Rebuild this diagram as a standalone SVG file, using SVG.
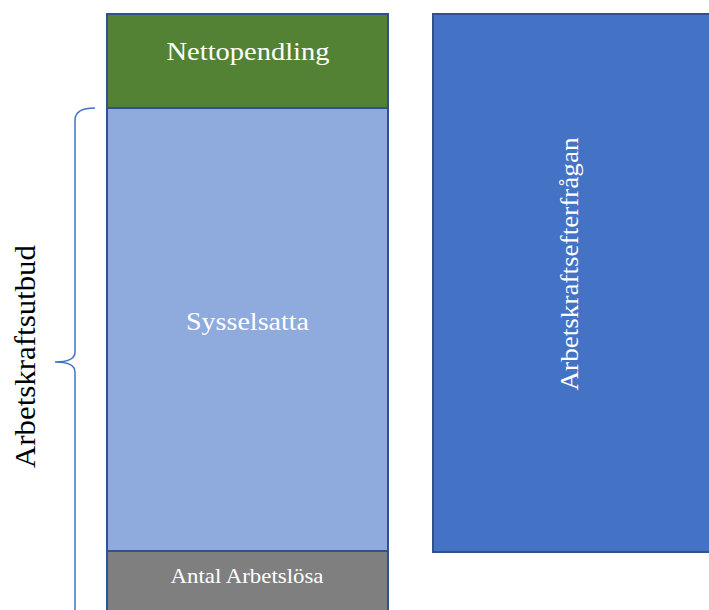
<svg xmlns="http://www.w3.org/2000/svg" width="709" height="610" viewBox="0 0 709 610">
<style>
.box{stroke:#2F528F;stroke-width:2}
.lbl{font-family:"Liberation Serif","Times New Roman",serif;fill:#FFFFFF;text-anchor:middle}
.side{font-family:"Liberation Serif","Times New Roman",serif;fill:#000000;text-anchor:middle}
.brace{fill:none;stroke:#4472C4;stroke-width:1.5}
</style>
<rect width="709" height="610" fill="#FFFFFF"/>
<g id="nettopendling">
<rect class="box" x="107" y="14" width="281" height="94" fill="#548235"/>
<text class="lbl" x="248" y="60" font-size="25" textLength="163" lengthAdjust="spacingAndGlyphs">Nettopendling</text>
</g>
<g id="sysselsatta">
<rect class="box" x="107" y="108" width="281" height="443" fill="#8FAADC"/>
<text class="lbl" x="247.5" y="330" font-size="26" textLength="123" lengthAdjust="spacingAndGlyphs">Sysselsatta</text>
</g>
<g id="arbetslosa">
<rect class="box" x="107" y="551" width="281" height="70" fill="#7F7F7F"/>
<text class="lbl" x="247" y="583" font-size="22" textLength="153" lengthAdjust="spacingAndGlyphs">Antal Arbetslösa</text>
</g>
<g id="efterfragan">
<rect class="box" x="433" y="14" width="290" height="538" fill="#4472C4"/>
<text class="lbl" transform="translate(578,264) rotate(-90)" x="0" y="0" font-size="25" textLength="253" lengthAdjust="spacingAndGlyphs">Arbetskraftsefterfrågan</text>
</g>
<g id="utbud">
<text class="side" transform="translate(35,356.5) rotate(-90)" x="0" y="0" font-size="29" textLength="223" lengthAdjust="spacingAndGlyphs">Arbetskraftsutbud</text>
</g>
<g id="connectors">
<path class="brace" d="M95,108 Q75,108 75,120 L75,352 Q75,362 55,362 Q75,362 75,372 L75,620"/>
</g>
</svg>
